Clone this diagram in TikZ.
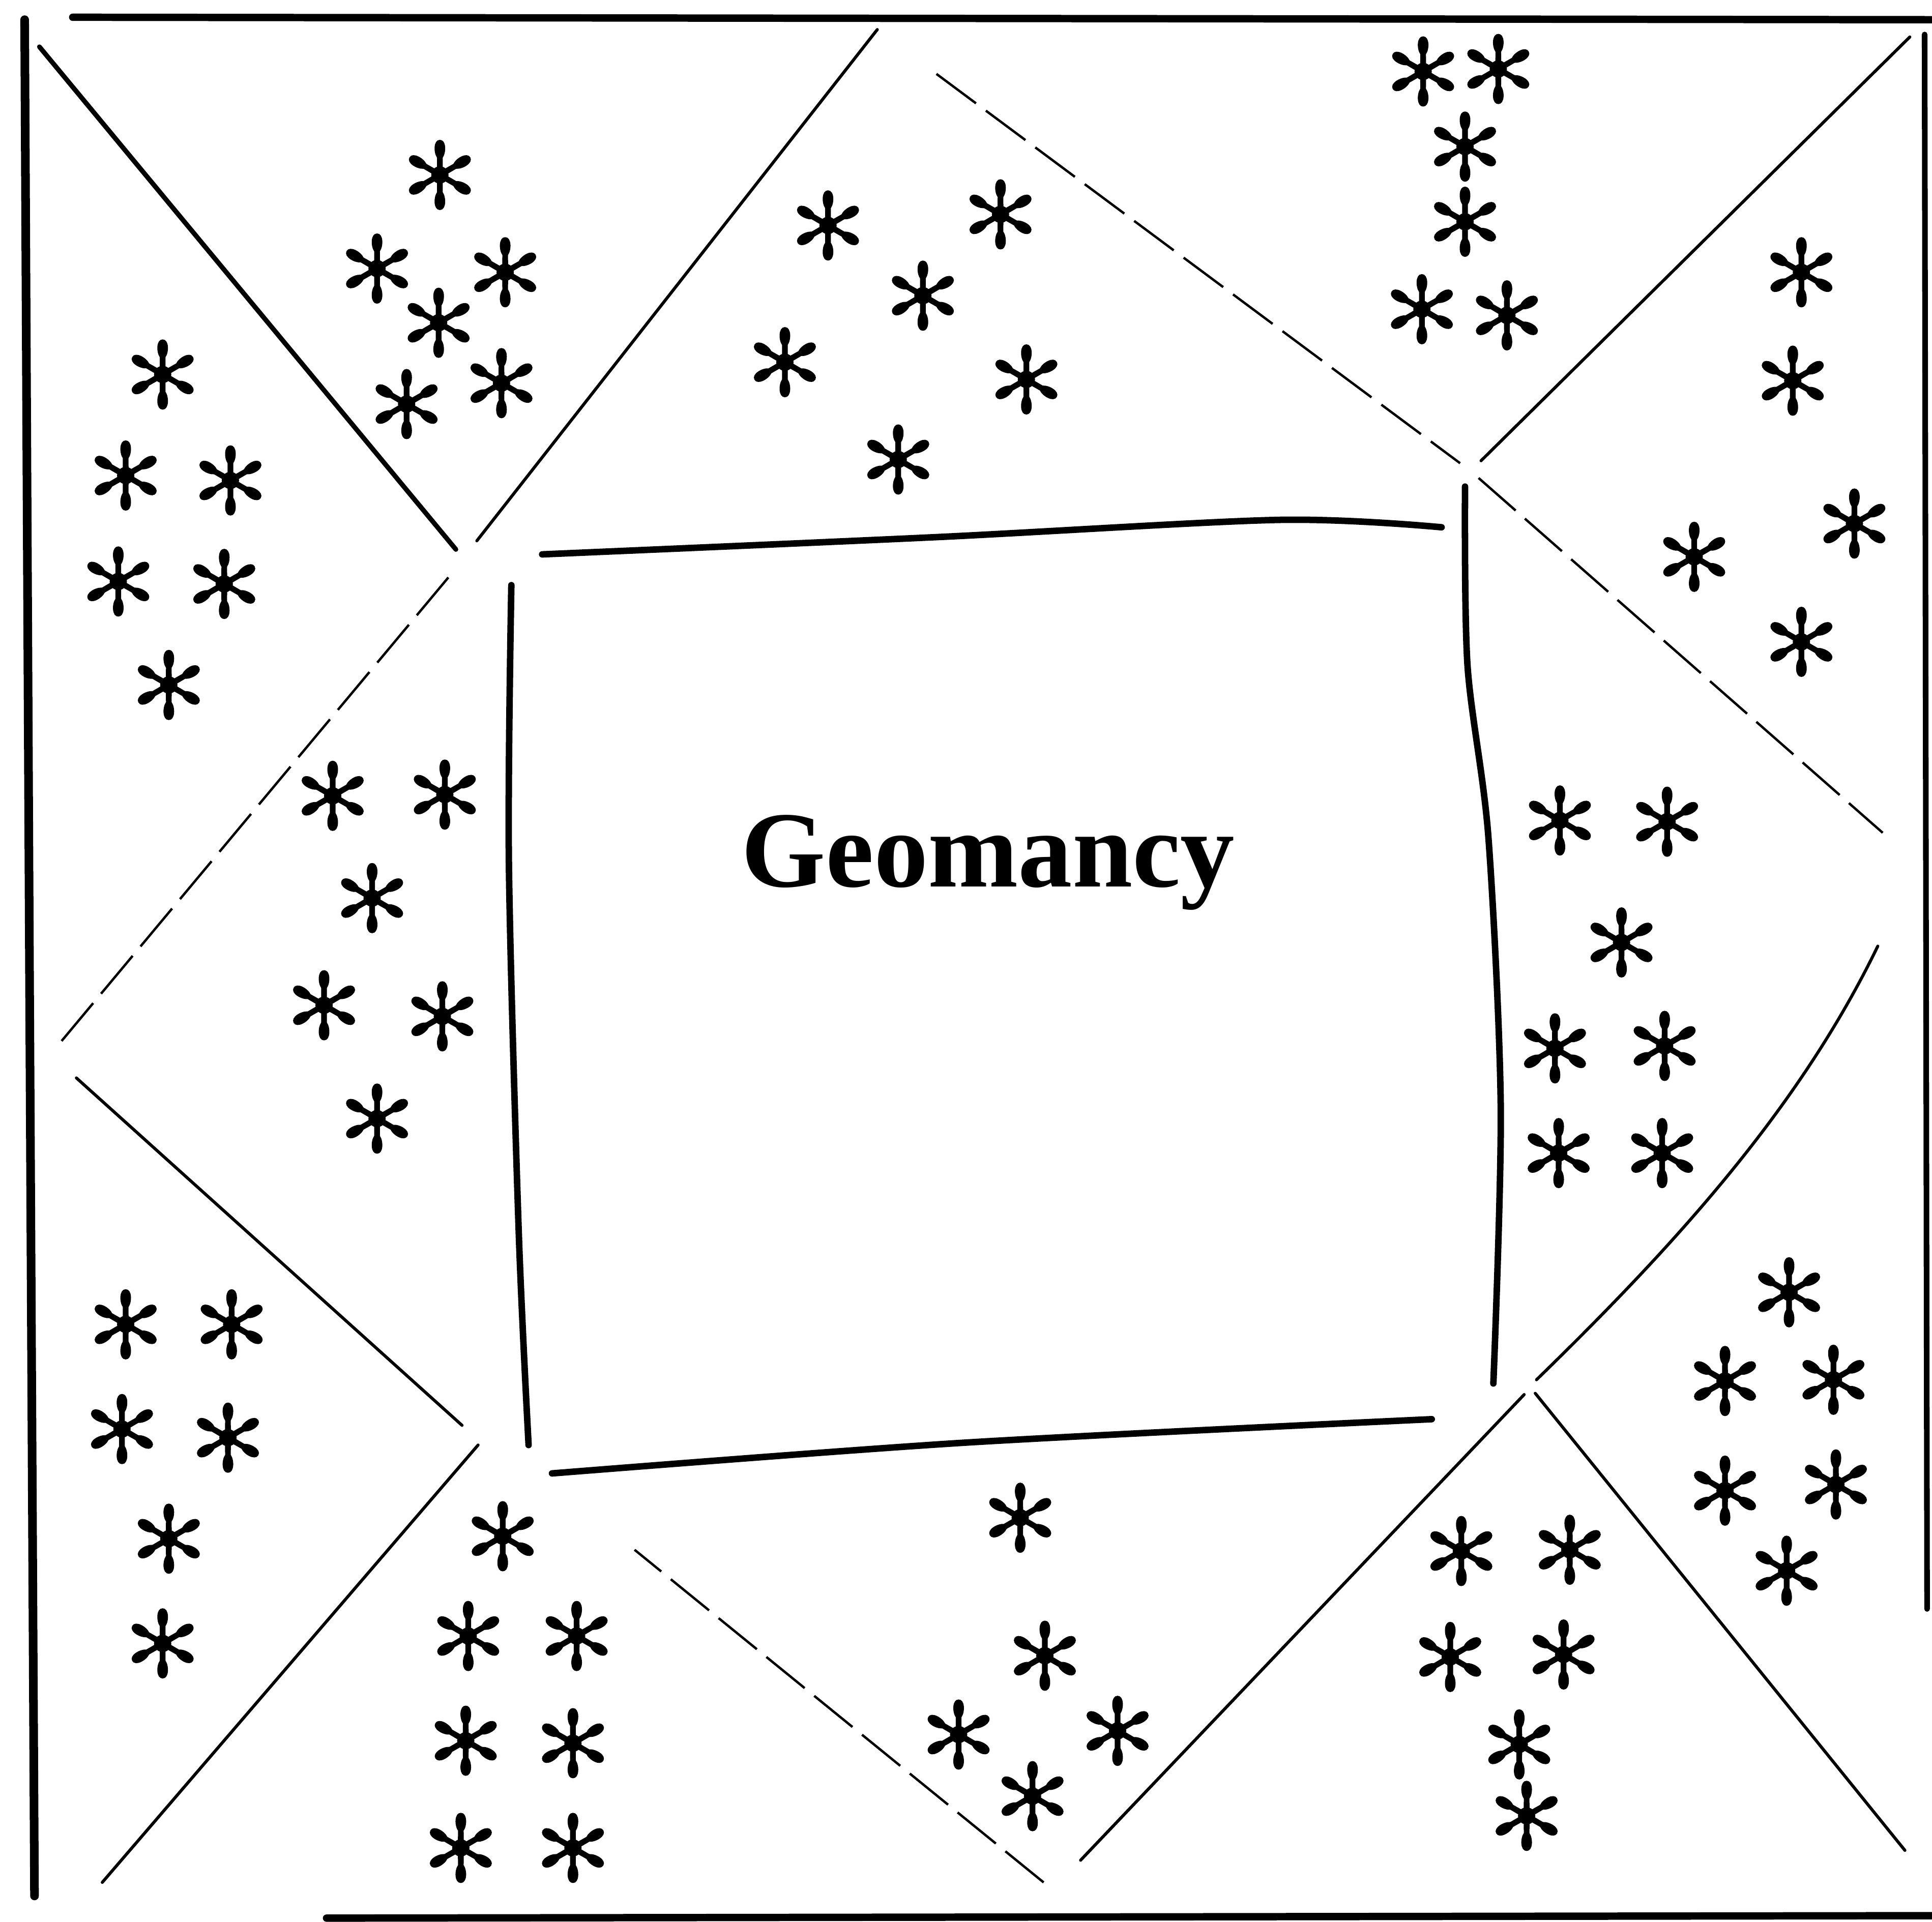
\documentclass[tikz,border=0pt]{standalone}
\usepackage{fontspec}
\setmainfont{Liberation Serif}
\usepackage{tikz}

\begin{document}
\begin{tikzpicture}[
      x=0.1mm, y=-0.1mm,
      frame/.style={line width=1.7pt, line cap=round},
      sqline/.style={line width=1.5pt, line cap=round, line join=round},
      ray/.style={line width=0.7pt, line cap=round},
      raythick/.style={line width=1.1pt, line cap=round},
      raydash/.style={line width=0.55pt, dash pattern=on 4mm off 1mm},
      title/.style={anchor=base, font=\fontsize{25}{30}\selectfont\bfseries},
      gstar/.pic={
        \fill (0,0) circle (7);
        \foreach \ang in {90,30,-30,-90,-150,150}{
          \fill[rotate=\ang] (0,-2.4) -- (14,-2.3)
            .. controls (18,-5.2) and (28.5,-5.4) .. (28.5,0)
            .. controls (28.5,5.4) and (18,5.2) .. (14,2.3) -- (0,2.4) -- cycle;
        }
      },
    ]

    \useasboundingbox (0,0) rectangle (1568,1560);

    % ---------- puntos del marco ----------
    \coordinate (otl) at (32,38);
    \coordinate (otr) at (1550,30);
    \coordinate (obr) at (1546,1502);
    \coordinate (obl) at (83,1528);

    \coordinate (mtop)    at (712,24);
    \coordinate (mtop2)   at (760,60);
    \coordinate (mleft)   at (50,845);
    \coordinate (mleft2)  at (62,875);
    \coordinate (mbot)    at (847,1528);
    \coordinate (mbot2)   at (877,1510);
    \coordinate (mright)  at (1528,676);
    \coordinate (mright2) at (1524,768);

    \coordinate (itl)  at (370,446);
    \coordinate (itl2) at (387,439);
    \coordinate (itl3) at (367,465);
    \coordinate (itr)  at (1185,376);
    \coordinate (itr2) at (1202,374);
    \coordinate (itr3) at (1200,388);
    \coordinate (ibl)  at (375,1157);
    \coordinate (ibl2) at (388,1173);
    \coordinate (ibl3) at (515,1258);
    \coordinate (ibr)  at (1237,1132);
    \coordinate (ibr2) at (1246,1131);
    \coordinate (ibr3) at (1247,1120);

    % ---------- marco exterior ----------
    \draw[frame] (59,14) -- (1568,16);
    \draw[frame, line width=2pt] (20,16) -- (24,800) -- (28,1539);
    \draw[frame, line width=1.3pt] (1562,28) -- (1564,1306);
    \draw[frame] (265,1557) -- (1568,1555);

    % ---------- cuadro central ----------
    \draw[sqline] plot[smooth] coordinates {(440,450) (760,436) (1038,422) (1170,428)};
    \draw[sqline] plot[smooth] coordinates {(415,475) (413,700) (421,1000) (429,1173)};
    \draw[sqline] plot[smooth] coordinates {(1189,395) (1191,540) (1208,680) (1218,900) (1212,1123)};
    \draw[sqline] plot[smooth] coordinates {(448,1196) (784,1171) (1162,1152)};

    % ---------- diagonales ----------
    \draw[raythick] (otl) -- (itl);
    \draw[ray] (itl2) -- (mtop);
    \draw[raydash] (mtop2) -- (itr);
    \draw[ray] (itr2) -- (otr);
    \draw[raydash] (itr3) -- (mright);
    \draw[ray] (mright2) .. controls (1460,900) and (1360,1010) .. (ibr3);
    \draw[ray] (ibr2) -- (obr);
    \draw[ray] (ibr) -- (mbot2);
    \draw[raydash] (mbot) -- (ibl3);
    \draw[ray] (ibl2) -- (obl);
    \draw[ray] (mleft2) -- (ibl);
    \draw[raydash] (mleft) -- (itl3);

    % ---------- titulo ----------
    \node[title] (geo) at (802,720) {Geomancy};

    % ---------- casas (figuras) ----------
    \foreach \x/\y [count=\i] in {357/142, 306/218, 410/221, 356/262, 330/328, 407/311}
      \pic (a\i) at (\x,\y) {gstar};
    \foreach \x/\y [count=\i] in {132/304, 102/386, 187/390, 96/472, 182/474, 137/556}
      \pic (b\i) at (\x,\y) {gstar};
    \foreach \x/\y [count=\i] in {672/183, 812/174, 749/240, 637/294, 833/308, 729/373}
      \pic (d\i) at (\x,\y) {gstar};
    \foreach \x/\y [count=\i] in {1155/58, 1216/56, 1189/119, 1189/180, 1154/251, 1223/256}
      \pic (e\i) at (\x,\y) {gstar};
    \foreach \x/\y [count=\i] in {1462/221, 1455/309, 1375/452, 1505/425, 1462/521}
      \pic (f\i) at (\x,\y) {gstar};
    \foreach \x/\y [count=\i] in {1266/666, 1353/667, 1316/765, 1262/851, 1351/849, 1265/936, 1349/936}
      \pic (g\i) at (\x,\y) {gstar};
    \foreach \x/\y [count=\i] in {1452/1049, 1400/1121, 1488/1120, 1400/1210, 1490/1205, 1450/1275}
      \pic (h\i) at (\x,\y) {gstar};
    \foreach \x/\y [count=\i] in {1186/1259, 1274/1258, 1177/1345, 1269/1343, 1233/1416, 1239/1474}
      \pic (i\i) at (\x,\y) {gstar};
    \foreach \x/\y [count=\i] in {828/1232, 848/1344, 778/1408, 907/1405, 838/1458}
      \pic (j\i) at (\x,\y) {gstar};
    \foreach \x/\y [count=\i] in {408/1247, 380/1328, 468/1328, 378/1413, 465/1415, 374/1500, 465/1500}
      \pic (k\i) at (\x,\y) {gstar};
    \foreach \x/\y [count=\i] in {102/1075, 188/1075, 99/1160, 185/1167, 137/1249, 132/1334}
      \pic (l\i) at (\x,\y) {gstar};
    \foreach \x/\y [count=\i] in {270/646, 361/645, 302/729, 263/816, 359/825, 306/908}
      \pic (m\i) at (\x,\y) {gstar};

  \end{tikzpicture}
\end{document}
